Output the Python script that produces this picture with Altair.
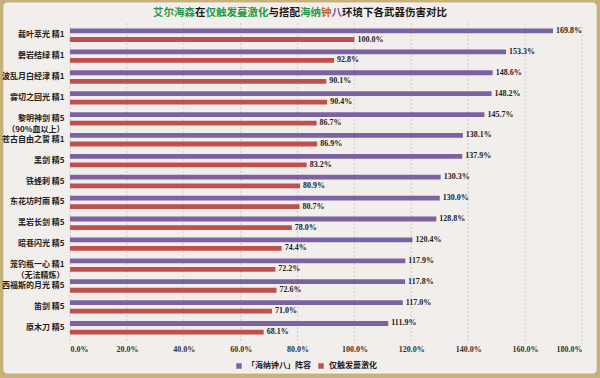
import altair as alt
import pandas as pd

weapons = [
    "裁叶萃光 精1",
    "磐岩结绿 精1",
    "波乱月白经津 精1",
    "雾切之回光 精1",
    "黎明神剑 精5\n（90%血以上）",
    "苍古自由之誓 精1",
    "黑剑 精5",
    "铁蜂刺 精5",
    "东花坊时雨 精5",
    "黑岩长剑 精5",
    "暗巷闪光 精5",
    "笼钓瓶一心 精1\n（无法精炼）",
    "西福斯的月光 精5",
    "笛剑 精5",
    "原木刀 精5",
]
team_vals = [169.8, 153.3, 148.6, 148.2, 145.7, 138.1, 137.9, 130.3, 130.0, 128.8, 120.4, 117.9, 117.8, 117.0, 111.9]
quicken_vals = [100.0, 92.8, 90.1, 90.4, 86.7, 86.9, 83.2, 80.9, 80.7, 78.0, 74.4, 72.2, 72.6, 71.0, 68.1]
series_names = ["「海纳钟八」阵容", "仅触发蔓激化"]
series_colors = ["#7b62a3", "#c0504d"]
x_ticks = [0, 20, 40, 60, 80, 100, 120, 140, 160, 180]

title_parts = ["艾尔海森", "在", "仅触发蔓激化", "与搭配", "海纳", "钟", "八", "环境下各武器伤害对比"]
title_colors = ["#1f9a4a", "#1a1a1a", "#1f9a4a", "#1a1a1a", "#1f9a4a", "#c8641e", "#7b4fa0", "#1a1a1a"]

rows = []
for w, a, b in zip(weapons, team_vals, quicken_vals):
    rows.append({"weapon": w, "series": series_names[0], "value": a, "label": f"{a:.1f}%"})
    rows.append({"weapon": w, "series": series_names[1], "value": b, "label": f"{b:.1f}%"})
df = pd.DataFrame(rows)
grid_df = pd.DataFrame({"tick": x_ticks})

W, H = 512, 313
PAD_L, PAD_T, PAD_R, PAD_B = 70, 25, 18, 40
CJK = "Noto Sans CJK SC"
SERIF = "Liberation Serif"

y_enc = alt.Y(
    "weapon:N",
    sort=weapons,
    scale=alt.Scale(paddingInner=0.36, paddingOuter=0.17),
    axis=alt.Axis(
        title=None,
        labelExpr="split(datum.label, '\\n')",
        labelFont=CJK,
        labelFontWeight="bold",
        labelFontSize=8,
        labelColor="#222222",
        labelPadding=6,
        labelLineHeight=11,
        ticks=False,
        domain=False,
        zindex=1,
    ),
)
yoff_enc = alt.YOffset("series:N", sort=series_names, scale=alt.Scale(paddingInner=0.44, paddingOuter=0))
x_enc = alt.X(
    "value:Q",
    scale=alt.Scale(domain=[0, 180], nice=False),
    axis=alt.Axis(
        title=None,
        values=x_ticks,
        labelExpr="format(datum.value, '.1f') + '%'",
        labelFont=SERIF,
        labelFontWeight="bold",
        labelFontSize=8,
        labelColor="#333333",
        labelPadding=7,
        grid=False,
        ticks=False,
        domain=False,
        zindex=1,
    ),
)
color_enc = alt.Color(
    "series:N",
    sort=series_names,
    scale=alt.Scale(domain=series_names, range=series_colors),
    legend=alt.Legend(
        title=None,
        orient="none",
        direction="horizontal",
        legendX=165,
        legendY=337,
        symbolType="square",
        symbolSize=30,
        symbolStrokeWidth=0,
        labelFont=CJK,
        labelFontWeight="bold",
        labelFontSize=8,
        labelColor="#222222",
        columnPadding=6,
        labelOffset=4,
        zindex=1,
    ),
)

one = pd.DataFrame({"a": [0]})
panel = alt.Chart(one).mark_rect(fill="#f2eeeb", stroke="#f8f6f3", strokeWidth=1, cornerRadius=3).encode(
    x=alt.value(4 - PAD_L), x2=alt.value(596 - PAD_L),
    y=alt.value(3 - PAD_T), y2=alt.value(373 - PAD_T),
)

grid = alt.Chart(grid_df).mark_rule(color="#bdbdbd", strokeWidth=0.7, strokeDash=[2, 2]).encode(
    x=alt.X("tick:Q", scale=alt.Scale(domain=[0, 180], nice=False)),
    y=alt.value(-2),
    y2=alt.value(H + 3),
)

bars = alt.Chart(df).mark_bar().encode(y=y_enc, yOffset=yoff_enc, x=x_enc, color=color_enc)
labels = alt.Chart(df).mark_text(
    align="left", baseline="middle", dx=3, font=SERIF, fontWeight="bold", fontSize=8, color="#222222"
).encode(y=alt.Y("weapon:N", sort=weapons), yOffset=alt.YOffset("series:N", sort=series_names), x="value:Q", text="label:N")

FS = 10.5
n_total = sum(len(p) for p in title_parts)
start = 300 - n_total * FS / 2 - PAD_L
title_layers = []
pos = 0
for part, col in zip(title_parts, title_colors):
    title_layers.append(
        alt.Chart(one).mark_text(
            text=part, align="left", baseline="middle", font=CJK, fontWeight="bold", fontSize=FS, color=col
        ).encode(x=alt.value(start + pos * FS), y=alt.value(13 - PAD_T))
    )
    pos += len(part)

chart = alt.layer(panel, grid, bars, labels, *title_layers).properties(
    width=W,
    height=H,
    padding={"left": PAD_L, "top": PAD_T, "right": PAD_R, "bottom": PAD_B},
    autosize=alt.AutoSizeParams(type="none"),
    background="#c8b27c",
).configure_view(strokeWidth=0)

chart.save("out.html", embed_options={"renderer": "svg", "actions": False})
